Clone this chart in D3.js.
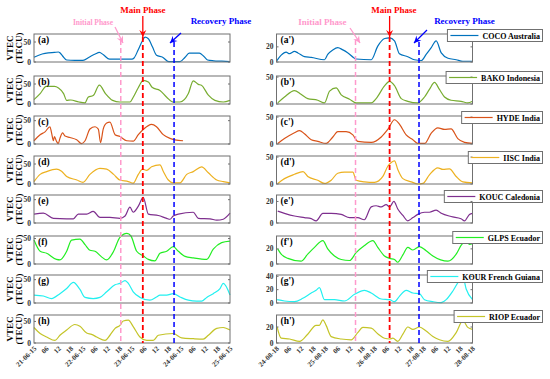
<!DOCTYPE html>
<html>
<head>
<meta charset="utf-8">
<script src="https://cdn.jsdelivr.net/npm/d3@7"></script>
<style>
body { margin: 0; background: #fff; }
text { font-family: "Liberation Serif", "Times New Roman", serif; font-weight: bold; }
</style>
</head>
<body>
<svg id="chart" width="550" height="379"></svg>
<script>
// ---- data: [hour since start of first day, VTEC] ----
var leftDates = ["21-06-15", "22-06-15", "23-06-15", "24-06-15", "25-06-15"];
var rightDates = ["24-08-18", "25-08-18", "26-08-18", "27-08-18", "28-08-18"];
var hourLabels = ["06", "12", "18"];

var cocoJun = [[0,12],[4,20],[7,23],[10,24],[12,25],[12.7,23],[14,15],[16,5],[20,4],[24,4],[27,12],[30,20],[32,24],[34,18],[37,7],[42,7],[48,7],[49,10],[51,30],[53,52],[54.4,62],[56,58],[58,38],[60,17],[63,12],[66,1],[71.5,1],[74,12],[76,22],[81,22],[83,15],[85,5],[88,3],[92,2],[96,1]];
var bakoJun = [[0,11],[3,26],[6,44],[10,44],[12,40],[14.5,26],[16,9],[18,10],[22,5],[25,3],[26.5,17],[29,21],[32,47],[35,26],[38.5,9],[42,5],[47,5],[48.6,17],[51,40],[53.5,59],[56,55],[58,41],[61.7,34],[65,17],[68.2,5],[71.5,5],[75.6,26],[78,58],[80.5,49],[82,47],[85.4,22],[88.6,9],[92.7,5],[96,9]];
var hydeJun = [[0,7],[3,20],[5.4,26],[7.8,37],[8.6,24],[9.5,7],[10,16],[11,6],[11.9,1],[12.7,12],[14,24],[15.2,17],[17.6,14],[20.9,9],[23.3,1],[25,7],[27.4,32],[29.9,37],[31.5,32],[32.6,3],[33.9,32],[35.6,45],[37.2,47],[39.7,20],[42.1,16],[45.4,7],[48.6,6],[51.1,20],[53.5,31],[57.6,42],[60,37],[63.3,20],[66.6,12],[69,9],[73,7]];
var iiscJun = [[0,6],[3,24],[6.2,31],[11,37],[13.5,32],[16,19],[21,10],[24,4],[27.4,24],[32.3,39],[35.6,37],[39,24],[42,10],[46.2,6],[48.6,2],[51.1,24],[53.2,37],[55.2,34],[57.6,43],[61.7,48],[63.3,32],[65.8,10],[68.2,3],[71.5,3],[74.8,24],[78,31],[82.1,43],[85.4,28],[89.5,10],[92.7,6],[96,3]];
var koucJun = [[0,19],[4.6,21],[9.5,10],[16,9],[19.3,9],[21.7,19],[25.8,19],[29,25],[32.3,12],[37.2,12],[42.1,10],[44.6,15],[47,34],[48.6,23],[51.1,36],[53.5,55],[56,19],[60.9,16],[65,10],[66.6,8],[68.2,15],[70.7,19],[78,23],[80.5,10],[86.2,9],[89.5,6],[92.7,8],[96,21]];
var glpsJun = [[0,47],[3,25],[6.2,21],[11,9],[12.7,8],[16,25],[18.4,47],[22.5,49],[25,38],[27.4,27],[29.9,25],[33.1,14],[35.6,8],[39,25],[42,52],[45.5,60],[47.5,55],[50.3,25],[53.5,16],[56,9],[59.2,6],[61.7,21],[65,25],[68.2,34],[70.7,25],[74,15],[78,12],[84.6,9],[87.8,29],[91.9,42],[96,45]];
var kourJun = [[0,17],[4.6,15],[8.6,9.5],[12.7,20],[16,31],[19.3,44],[22.5,29],[25,12],[29,9.5],[32.3,12],[35.6,24],[39.7,39],[42.1,42],[44.6,48],[46.2,42],[48.6,24],[52,12],[56.8,6],[60,13],[61.7,17],[65,17],[68.2,20],[71.5,13],[75.6,6],[79.7,4],[82.1,4],[84.6,12],[87.8,20],[91.1,31],[92.7,42],[96,17]];
var riopJun = [[0,36],[3,22],[6.2,14],[10.3,6],[12.7,18],[16,30],[20,43],[22.5,39],[25.8,23],[28.2,20],[30.7,14],[34.8,6],[37.2,18],[39.7,34],[42.1,41],[43.7,51],[46.2,53],[48.6,38],[51.9,14],[55.2,6],[58.4,6],[60.9,18],[68.2,22],[72.3,12],[78,10],[82.9,9],[85.4,18],[89.5,34],[92.7,36],[96,30]];

var cocoAug = [[0,1],[2.3,9],[4.7,13],[6.4,11],[8.8,14],[10.5,12],[13.7,7],[17,6],[23.5,3],[25.1,10],[27.6,16],[30,19],[32.5,16],[35,12],[39,4],[46.4,3],[49.6,21],[53,31],[55.4,32],[57.8,28],[60.2,11],[64.3,7],[67.6,3],[70.9,2],[73.3,10],[75.8,19],[78.2,28],[80.7,12],[84,5],[88,3],[91.3,1],[96,1]];
var bakoAug = [[0.6,2],[3.9,13],[8.8,25],[12,18],[15.3,10],[20.2,7],[23.5,2],[26,24],[29.2,30],[31.7,17],[35.8,9],[39,2],[46.4,2],[48.8,10],[53,34],[55.4,42],[57.8,34],[61.1,10],[64.3,5],[69.2,2],[72.5,13],[74.9,27],[77.4,40],[79.8,27],[82.3,13],[85.5,7],[90.4,5],[93.7,2],[96,5]];
var hydeAug = [[0.6,1],[3.9,10],[8.8,21],[11.3,25],[13.7,19],[17,8],[20.2,5],[24.3,1],[27.6,13],[30,23],[34.1,23],[37.4,17],[39.8,5],[46.4,3],[51.3,13],[54.5,27],[57.8,45],[60.2,37],[63.5,17],[66.8,8],[69.2,1],[72.5,1],[75.8,20],[79,30],[82.3,27],[85.5,28],[88.8,10],[92.1,3],[96,1]];
var iiscAug = [[0.6,1],[3.9,10],[8.8,18],[13,23],[15.3,14],[20.2,7],[23.5,1],[26.8,7],[30,20],[33.3,22],[37.4,22],[39,7],[43.1,4],[48,3],[52.1,14],[54.5,33],[56.2,40],[57.8,43],[59.4,27],[61.9,10],[66,4],[69.2,0],[71.7,1],[74.9,17],[79,30],[81.5,27],[84.7,28],[88,14],[91.3,4],[96,2]];
var koucAug = [[0.6,11],[3.9,9],[8.8,6.5],[13.7,5],[17,4],[19.4,2],[22.7,9],[26.8,9],[31.7,8],[35.8,5],[39.8,5],[43,3],[46.4,15],[48.8,16],[51.3,15],[53.7,17],[55.4,15],[57.5,20],[59.4,13],[61.9,7],[64.3,2],[66.8,5],[69.2,8],[72.5,10],[74.9,10],[78.2,12],[80.7,9],[85.5,6],[90.4,4],[92.1,2],[94.5,8],[96,9]];
var glpsAug = [[0.6,20],[2.3,13],[5.6,7.4],[12,3.7],[15.3,13],[18.6,22],[22.7,31],[25.1,20],[28.4,10.6],[31.7,6],[35.8,4.6],[39,15],[43.1,24.5],[47.2,31],[49.6,22],[52.9,10.6],[55.4,7.4],[57.8,6],[59.4,2.3],[61.9,12],[64.3,22],[66.8,18.5],[70,23],[73.3,17.6],[76.6,10.6],[84,3.7],[88,13],[90.4,24.5],[92.9,31],[94.5,26],[96,27]];
var kourAug = [[0.3,5],[3.9,3],[8.8,2],[12.9,7],[17,15],[19.4,19],[21,23],[23.5,5],[28.4,5],[33.3,3],[38.2,13],[43.1,19],[46.4,15],[51.3,6],[55.4,5],[57.8,2],[60.2,10],[63.5,19],[66.8,15],[70,14],[72.5,5],[76.6,2],[80.6,0.5],[83.1,5],[86.4,18],[89.6,34],[91.3,39],[92.9,21],[96,5]];
var riopAug = [[0.3,20],[2.3,6],[6.4,5],[11.3,2],[15.3,11],[19.4,22],[21,22],[22.7,29],[24.3,22],[26.8,8],[31.7,5],[36.6,4],[39.8,13],[42.3,19.5],[46.4,18.6],[49.6,11.5],[52.9,6],[55.4,5],[57,6],[59.4,2],[61.9,11],[64.3,20],[66.8,17],[70,20],[73.3,15],[76.6,8],[79.8,4],[84,2],[88,13],[91.3,28],[93.7,19.5],[96,17]];

var stations = ["COCO Australia", "BAKO Indonesia", "HYDE India", "IISC India", "KOUC Caledonia", "GLPS Ecuador", "KOUR French Guiana", "RIOP Ecuador"];
var colors = ["#0072BD", "#77AC30", "#D95319", "#EDB120", "#7E2F8E", "#22ee22", "#22f0f0", "#c4c428"];
var juneSeries = [cocoJun, bakoJun, hydeJun, iiscJun, koucJun, glpsJun, kourJun, riopJun];
var augSeries = [cocoAug, bakoAug, hydeAug, iiscAug, koucAug, glpsAug, kourAug, riopAug];
var juneYMax = [70, 70, 60, 70, 60, 55, 60, 65];
var augYMax = [37, 52, 52, 52, 26, 37, 42, 35];
var juneYTicks = [[0,50],[0,50],[0,50],[0,50],[0,50],[0,50],[0,50],[0,50]];
var augYTicks = [[0,20],[0,50],[0,50],[0,50],[0,20],[0,20],[0,20,40],[0,20]];
var labelsLeft = ["(a)", "(b)", "(c)", "(d)", "(e)", "(f)", "(g)", "(h)"];
var labelsRight = ["(a')", "(b')", "(c')", "(d')", "(e')", "(f')", "(g')", "(h')"];
// phase times (hours)
var junePhases = {initial: 42.5, main: 53.3, recovery: 68.6};
var augPhases = {initial: 38.7, main: 55.4, recovery: 69.8};

// ---- layout ----
var svg = d3.select("#chart");
var panelTops = [34, 76, 116, 156, 195, 236, 275, 315];
var panelH = 28;
var lastBottom = panelTops[7] + panelH;

var xLeft = d3.scaleLinear().domain([0, 96]).range([34, 230]);
var xRight = d3.scaleLinear().domain([0, 96]).range([276.5, 472.5]);

function drawColumn(x, series, yMaxes, yTicks, labels, dates, withLegend) {
    series.forEach(function(data, i) {
        var top = panelTops[i];
        var y = d3.scaleLinear().domain([0, yMaxes[i]]).range([top + panelH, top]);
        var g = svg.append("g");

        var line = d3.line()
            .x(d => x(d[0]))
            .y(d => y(d[1]))
            .curve(d3.curveMonotoneX);
        g.append("path")
            .datum(data)
            .attr("d", line)
            .attr("fill", "none")
            .attr("stroke", colors[i])
            .attr("stroke-width", 1.2);

        // box
        g.append("rect")
            .attr("x", x.range()[0]).attr("y", top)
            .attr("width", x.range()[1] - x.range()[0]).attr("height", panelH)
            .attr("fill", "none").attr("stroke", "#707070").attr("stroke-width", 1);

        // y ticks (inward, both sides)
        yTicks[i].forEach(function(t) {
            var yy = y(t);
            g.append("line").attr("x1", x.range()[0]).attr("x2", x.range()[0] + 2)
                .attr("y1", yy).attr("y2", yy).attr("stroke", "#707070");
            g.append("line").attr("x1", x.range()[1]).attr("x2", x.range()[1] - 2)
                .attr("y1", yy).attr("y2", yy).attr("stroke", "#707070");
            g.append("text")
                .attr("x", x.range()[0] - 3).attr("y", yy + 2.5)
                .attr("text-anchor", "end")
                .attr("font-size", 7.5)
                .attr("fill", "#333")
                .text(t);
        });

        g.append("text")
            .attr("x", x.range()[0] + 4).attr("y", top + 9)
            .attr("font-size", 9.5)
            .text(labels[i]);

        if (withLegend) {
            var lt = g.append("text")
                .attr("x", 540).attr("y", top + 4.5)
                .attr("text-anchor", "end")
                .attr("font-size", 8)
                .text(stations[i]);
            var w = lt.node().getComputedTextLength();
            var bx = 540 - w - 35;
            g.insert("rect", "text")
                .attr("x", bx).attr("y", top - 4.5)
                .attr("width", 542.5 - bx).attr("height", 12)
                .attr("fill", "#fff").attr("stroke", "#707070");
            g.append("line")
                .attr("x1", bx + 3).attr("x2", bx + 31)
                .attr("y1", top + 1.5).attr("y2", top + 1.5)
                .attr("stroke", colors[i]).attr("stroke-width", 1.2);
        } else {
            svg.append("text")
                .attr("transform", "translate(13," + (top + panelH / 2) + ") rotate(-90)")
                .attr("text-anchor", "middle")
                .attr("font-size", 9)
                .text("VTEC");
            svg.append("text")
                .attr("transform", "translate(21.5," + (top + panelH / 2) + ") rotate(-90)")
                .attr("text-anchor", "middle")
                .attr("font-size", 9)
                .text("(TECU)");
        }
    });

    // x tick labels under the last panel
    var ticks = d3.range(0, 97, 6);
    svg.append("g").selectAll("text")
        .data(ticks)
        .enter().append("text")
        .attr("transform", d => "translate(" + (x(d) + 3) + "," + (lastBottom + 6) + ") rotate(-45)")
        .attr("text-anchor", "end")
        .attr("font-size", 7)
        .attr("fill", "#333")
        .text(d => d % 24 === 0 ? dates[d / 24] : hourLabels[(d % 24) / 6 - 1]);
}

drawColumn(xLeft, juneSeries, juneYMax, juneYTicks, labelsLeft, leftDates, false);
drawColumn(xRight, augSeries, augYMax, augYTicks, labelsRight, rightDates, true);

// ---- phase markers ----
var defs = svg.append("defs");
[["pink", "#ff99cc"], ["red", "#ff0000"], ["blue", "#0000ff"]].forEach(function(c) {
    defs.append("marker")
        .attr("id", "arrow-" + c[0])
        .attr("viewBox", "-8 -4 9 8")
        .attr("markerWidth", 9).attr("markerHeight", 8)
        .attr("markerUnits", "userSpaceOnUse")
        .attr("orient", "auto")
        .append("path")
        .attr("d", "M0,0 L-7,-3.5 L-4.5,0 L-7,3.5 Z")
        .attr("fill", c[1]);
});

function phaseLines(x, ph, ann) {
    var specs = [
        {t: ph.initial, color: "#ff99cc", y0: 40, w: 1.5},
        {t: ph.main, color: "#ff0000", y0: 37, w: 1.8},
        {t: ph.recovery, color: "#0000ff", y0: 42, w: 1.5}
    ];
    specs.forEach(function(s) {
        svg.append("line")
            .attr("x1", x(s.t)).attr("x2", x(s.t))
            .attr("y1", s.y0).attr("y2", lastBottom)
            .attr("stroke", s.color).attr("stroke-width", s.w)
            .attr("stroke-dasharray", "5,3");
    });
    ann.forEach(function(a) {
        svg.append("line")
            .attr("x1", a.from[0]).attr("y1", a.from[1])
            .attr("x2", a.to[0]).attr("y2", a.to[1])
            .attr("stroke", a.color).attr("stroke-width", 1.3)
            .attr("marker-end", "url(#arrow-" + a.id + ")");
        svg.append("text")
            .attr("x", a.tx).attr("y", a.ty)
            .attr("text-anchor", "middle")
            .attr("font-size", a.fs)
            .attr("fill", a.color)
            .text(a.text);
    });
}

phaseLines(xLeft, junePhases, [
    {id: "red", color: "#ff0000", from: [xLeft(junePhases.main), 16], to: [xLeft(junePhases.main), 37], text: "Main Phase", tx: 143, ty: 13, fs: 9},
    {id: "pink", color: "#ff99cc", from: [115, 27], to: [123, 43], text: "Initial Phase", tx: 93, ty: 25, fs: 7.5},
    {id: "blue", color: "#0000ff", from: [181, 33], to: [170, 43], text: "Recovery Phase", tx: 221, ty: 24, fs: 9}
]);
phaseLines(xRight, augPhases, [
    {id: "red", color: "#ff0000", from: [xRight(augPhases.main), 16], to: [xRight(augPhases.main), 37], text: "Main Phase", tx: 394, ty: 13, fs: 9},
    {id: "pink", color: "#ff99cc", from: [350, 28], to: [360, 43], text: "Initial Phase", tx: 322.5, ty: 25, fs: 9},
    {id: "blue", color: "#0000ff", from: [427, 30], to: [414, 43], text: "Recovery Phase", tx: 464.5, ty: 24, fs: 9}
]);
</script>
</body>
</html>
